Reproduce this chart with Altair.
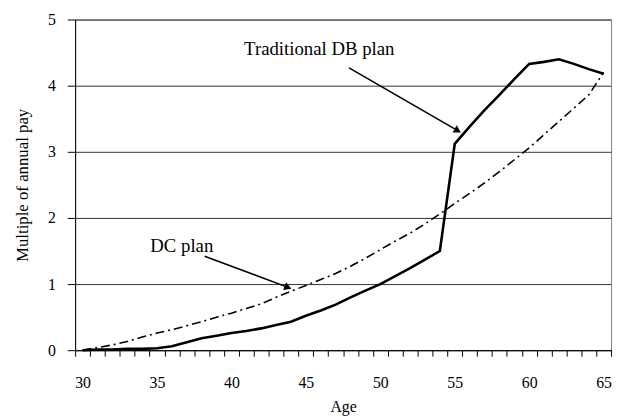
import altair as alt
import pandas as pd

ages = list(range(30, 66))
db_plan = [0.00, 0.01, 0.01, 0.02, 0.02, 0.03, 0.06, 0.12, 0.18, 0.22,
           0.26, 0.29, 0.33, 0.38, 0.43, 0.52, 0.60, 0.69, 0.80, 0.90,
           1.00, 1.12, 1.24, 1.37, 1.50, 3.12, 3.38, 3.63, 3.86, 4.10,
           4.33, 4.36, 4.40, 4.33, 4.25, 4.18]
dc_plan = [0.00, 0.04, 0.08, 0.13, 0.20, 0.26, 0.31, 0.37, 0.43, 0.50,
           0.56, 0.63, 0.70, 0.80, 0.89, 0.98, 1.07, 1.16, 1.27, 1.39,
           1.52, 1.65, 1.77, 1.91, 2.06, 2.22, 2.37, 2.53, 2.70, 2.88,
           3.06, 3.26, 3.46, 3.66, 3.86, 4.20]

tick_edges = [a - 0.5 for a in range(30, 67)]
y_ticks = [0, 1, 2, 3, 4, 5]

ann_labels = ["Traditional DB plan", "DC plan"]
ann_text_x = [40.85, 34.55]
ann_text_y = [4.55, 1.58]
arrow_x1 = [47.9, 38.2]
arrow_y1 = [4.27, 1.42]
arrow_x2 = [55.2, 43.8]
arrow_y2 = [3.32, 0.95]
arrow_angle = [30, 21]

FONT = "Liberation Serif"

df = pd.DataFrame({"age": ages, "db": db_plan, "dc": dc_plan})
ann = pd.DataFrame({"label": ann_labels, "tx": ann_text_x, "ty": ann_text_y,
                    "x1": arrow_x1, "y1": arrow_y1, "x2": arrow_x2, "y2": arrow_y2,
                    "ang": arrow_angle})

xscale = alt.Scale(domain=[29.5, 65.5], nice=False, zero=False)
yscale = alt.Scale(domain=[0, 5], nice=False)

xaxis = alt.Axis(values=tick_edges, tickSize=6, tickColor="black", domainColor="black",
                 labelExpr="(datum.value + 0.5) % 5 == 0 ? '' + (datum.value + 0.5) : ''",
                 labelOffset=7.54, labelOverlap=False, labelFlush=False, labelBound=False,
                 labelPadding=19, labelFontSize=16, labelFont=FONT, labelColor="black",
                 title="Age", titleFont=FONT, titleFontSize=16, titleFontWeight="normal",
                 titleColor="black", titlePadding=8, grid=False)
yaxis = alt.Axis(values=y_ticks, format="d", tickSize=8, tickColor="black", domainColor="black",
                 grid=True, gridColor="#333333", gridWidth=1,
                 labelPadding=12, labelFontSize=16, labelFont=FONT, labelColor="black",
                 title="Multiple of annual pay", titleFont=FONT, titleFontSize=17,
                 titleFontWeight="normal", titleColor="black", titlePadding=16)

base = alt.Chart(df)
db_line = base.mark_line(color="black", strokeWidth=2.6).encode(
    x=alt.X("age:Q", scale=xscale, axis=xaxis),
    y=alt.Y("db:Q", scale=yscale, axis=yaxis),
)
dc_line = base.mark_line(color="black", strokeWidth=1.6, strokeDash=[9, 4, 2, 4]).encode(
    x=alt.X("age:Q", scale=xscale, axis=xaxis),
    y=alt.Y("dc:Q", scale=yscale, axis=yaxis),
)

abase = alt.Chart(ann)
arrows = abase.mark_rule(color="black", strokeWidth=1.6).encode(
    x=alt.X("x1:Q", scale=xscale, axis=xaxis), y=alt.Y("y1:Q", scale=yscale, axis=yaxis),
    x2="x2:Q", y2="y2:Q",
)
heads = abase.mark_point(shape="triangle-right", filled=True, color="black",
                         size=70, opacity=1).encode(
    x=alt.X("x2:Q", scale=xscale, axis=xaxis), y=alt.Y("y2:Q", scale=yscale, axis=yaxis),
    angle=alt.Angle("ang:Q", scale=None),
)
texts = abase.mark_text(font=FONT, fontSize=19, align="left", baseline="middle",
                        color="black").encode(
    x=alt.X("tx:Q", scale=xscale, axis=xaxis), y=alt.Y("ty:Q", scale=yscale, axis=yaxis),
    text="label:N",
)

chart = alt.layer(db_line, dc_line, arrows, heads, texts).properties(
    width=543, height=335,
    autosize=alt.AutoSizeParams(type="none"),
    padding={"left": 68, "top": 9, "right": 5, "bottom": 67},
).configure(background="white", font=FONT).configure_view(stroke="#808080", strokeWidth=1)

chart.save("out.html", embed_options={"renderer": "svg", "actions": False})
